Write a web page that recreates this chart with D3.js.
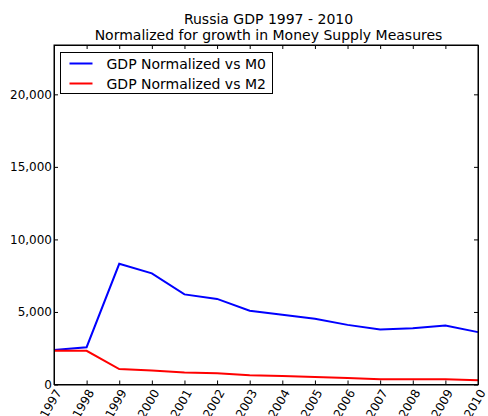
<!DOCTYPE html>
<html>
<head>
<meta charset="utf-8">
<script src="https://cdn.jsdelivr.net/npm/d3@7"></script>
<style>
  body { margin: 0; background: #fff; }
  svg { font-family: "DejaVu Sans", sans-serif; }
</style>
</head>
<body>
<svg id="chart"></svg>
<script>
const years = [1997, 1998, 1999, 2000, 2001, 2002, 2003, 2004, 2005, 2006, 2007, 2008, 2009, 2010];
const gdpVsM0 = [2380, 2570, 8320, 7660, 6210, 5900, 5080, 4810, 4530, 4110, 3790, 3880, 4070, 3610];
const gdpVsM2 = [2330, 2320, 1060, 970, 830, 770, 630, 580, 510, 440, 370, 370, 370, 300];
const yTicks = [0, 5000, 10000, 15000, 20000];
const seriesNames = ["GDP Normalized vs M0", "GDP Normalized vs M2"];
const seriesColors = ["#0000ff", "#ff0000"];

const width = 488, height = 416;
const margin = { top: 45, right: 10, bottom: 32, left: 54 };
const innerW = 478 - margin.left, innerH = 384.5 - margin.top;

const svg = d3.select("#chart").attr("width", width).attr("height", height);

const x = d3.scaleLinear().domain([1997, 2010]).range([0, innerW]);
const y = d3.scaleLinear().domain([0, 23400]).range([innerH, 0]);

const g = svg.append("g").attr("transform", `translate(${margin.left},${margin.top})`);

// title
svg.append("text").attr("x", 268.5).attr("y", 24).attr("text-anchor", "middle")
    .style("font-size", "14px").text("Russia GDP 1997 - 2010");
svg.append("text").attr("x", 268.5).attr("y", 40).attr("text-anchor", "middle")
    .style("font-size", "14px").text("Normalized for growth in Money Supply Measures");

// lines
const line = d3.line().x((d, i) => x(years[i])).y(d => y(d));
[gdpVsM0, gdpVsM2].forEach((s, i) => {
    g.append("path").datum(s)
        .attr("fill", "none")
        .attr("stroke", seriesColors[i])
        .attr("stroke-width", 2)
        .attr("d", line);
});

// axes, ticks pointing inward like matplotlib classic
const xAxis = d3.axisBottom(x).tickValues(years).tickFormat(d3.format("d")).tickSizeInner(-4).tickSizeOuter(0);
const xTop = d3.axisTop(x).tickValues(years).tickFormat("").tickSizeInner(-4).tickSizeOuter(0);
const yAxis = d3.axisLeft(y).tickValues(yTicks).tickFormat(d3.format(",")).tickSizeInner(-4).tickSizeOuter(0);
const yRight = d3.axisRight(y).tickValues(yTicks).tickFormat("").tickSizeInner(-4).tickSizeOuter(0);

const gx = g.append("g").attr("transform", `translate(0,${innerH})`).call(xAxis);
gx.selectAll("text")
    .style("font-size", "12px")
    .attr("text-anchor", "end")
    .attr("dx", null).attr("dy", null)
    .attr("transform", "translate(4,6) rotate(-60)")
    .attr("y", 0).attr("x", 0)
    .attr("dominant-baseline", "central");
g.append("g").call(xTop);
const gy = g.append("g").call(yAxis);
gy.selectAll("text").style("font-size", "12px").attr("x", -2);
g.append("g").attr("transform", `translate(${innerW},0)`).call(yRight);

g.selectAll(".domain").attr("stroke", "#000");
g.selectAll(".tick line").attr("stroke", "#000");
g.selectAll(".tick text").attr("fill", "#000").style("font-family", "DejaVu Sans");

// frame
g.append("rect").attr("width", innerW).attr("height", innerH)
    .attr("fill", "none").attr("stroke", "#000").attr("stroke-width", 1);

// legend
const legend = svg.append("g").attr("transform", "translate(60.5,52.5)");
legend.append("rect").attr("width", 212).attr("height", 41)
    .attr("fill", "#fff").attr("stroke", "#000");
seriesNames.forEach((name, i) => {
    const ly = 11 + i * 20;
    legend.append("line").attr("x1", 9).attr("x2", 32).attr("y1", ly).attr("y2", ly)
        .attr("stroke", seriesColors[i]).attr("stroke-width", 2);
    legend.append("text").attr("x", 46).attr("y", ly).attr("dominant-baseline", "central")
        .style("font-size", "14px").text(name);
});
</script>
</body>
</html>
